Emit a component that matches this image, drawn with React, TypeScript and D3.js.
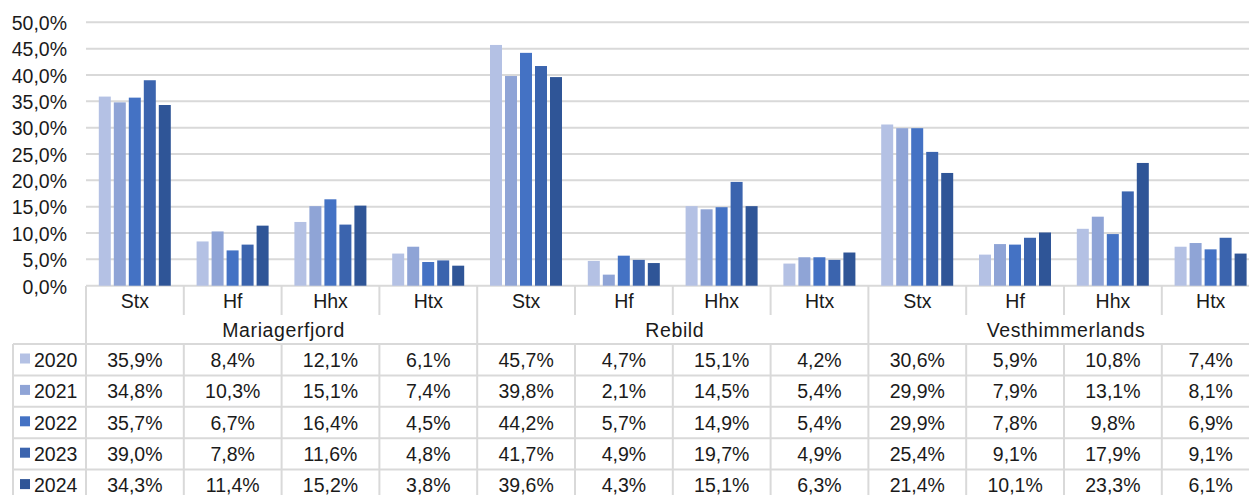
import React from "react";
import * as d3 from "d3";

const years = ["2020", "2021", "2022", "2023", "2024"];
const groups = ["Mariagerfjord", "Rebild", "Vesthimmerlands"];
const subCats = ["Stx", "Hf", "Hhx", "Htx"];
const colors = ["#b4c1e4", "#8fa4d6", "#4472c4", "#3b64ae", "#2f5597"];
const yTicks = [0, 0.05, 0.1, 0.15, 0.2, 0.25, 0.3, 0.35, 0.4, 0.45, 0.5];

// values per year across 12 columns (Mariagerfjord Stx,Hf,Hhx,Htx, Rebild ..., Vesthimmerlands ...)
const v2020 = [35.9, 8.4, 12.1, 6.1, 45.7, 4.7, 15.1, 4.2, 30.6, 5.9, 10.8, 7.4];
const v2021 = [34.8, 10.3, 15.1, 7.4, 39.8, 2.1, 14.5, 5.4, 29.9, 7.9, 13.1, 8.1];
const v2022 = [35.7, 6.7, 16.4, 4.5, 44.2, 5.7, 14.9, 5.4, 29.9, 7.8, 9.8, 6.9];
const v2023 = [39.0, 7.8, 11.6, 4.8, 41.7, 4.9, 19.7, 4.9, 25.4, 9.1, 17.9, 9.1];
const v2024 = [34.3, 11.4, 15.2, 3.8, 39.6, 4.3, 15.1, 6.3, 21.4, 10.1, 23.3, 6.1];
const series = [v2020, v2021, v2022, v2023, v2024];

const W = 1249;
const H = 495;
const FONT = "'Liberation Sans', Arial, sans-serif";
const fmt = (v: number) => v.toFixed(1).replace(".", ",") + "%";

export default function App() {
  const left = 86;
  const colW = 97.8;
  const columns = groups.flatMap((g) => subCats.map((s) => g + "|" + s));
  const x = d3.scaleBand<string>().domain(columns).range([left, left + colW * columns.length]).padding(0);
  const y = d3.scaleLinear().domain([0, 0.5]).range([285.7, 22.3]);
  const inner = d3.scaleBand<string>().domain(years).range([12.8, 12.8 + 72]).paddingInner(0.2).paddingOuter(0);

  const grid = "#d9d9d9";
  const catTop = 286;
  const catBot = 315;
  const tableTop = 344;
  const rowH = 31.4;
  const tableLeft = 13;
  const fs = 19.5;

  return (
    <svg width={W} height={H} style={{ position: "absolute", left: 0, top: 0, background: "#fff" }} fontFamily={FONT}>
      {/* gridlines */}
      {yTicks.map((t) => (
        <line key={"g" + t} x1={left} x2={W} y1={y(t)} y2={y(t)} stroke={grid} strokeWidth={2} />
      ))}
      {yTicks.map((t) => (
        <text key={"t" + t} x={67} y={y(t) + 7.8} textAnchor="end" fontSize={fs} fill="#1a1a1a">
          {fmt(t * 100)}
        </text>
      ))}
      {/* bars */}
      {series.map((vals, si) =>
        vals.map((v, ci) => (
          <rect
            key={si + "-" + ci}
            x={(x(columns[ci]) as number) + (inner(years[si]) as number)}
            y={y(v / 100)}
            width={inner.bandwidth()}
            height={y(0) - y(v / 100)}
            fill={colors[si]}
          />
        ))
      )}
      {/* category row lines */}
      {columns.map((c, i) => {
        const x0 = x(c) as number;
        const isGroup = i % 4 === 0;
        return (
          <g key={"cl" + i}>
            <line x1={x0} x2={x0} y1={catTop} y2={isGroup ? H : catBot} stroke={grid} strokeWidth={2} />
            {!isGroup && <line x1={x0} x2={x0} y1={tableTop} y2={H} stroke={grid} strokeWidth={2} />}
            <text x={x0 + x.bandwidth() / 2} y={307.7} textAnchor="middle" fontSize={fs} fill="#1a1a1a">
              {c.split("|")[1]}
            </text>
          </g>
        );
      })}
      {groups.map((g, gi) => {
        const x0 = x(columns[gi * 4]) as number;
        return (
          <text key={g} x={x0 + (x.bandwidth() * 4) / 2 + 2} y={337} textAnchor="middle" fontSize={fs} fill="#1a1a1a" letterSpacing={0.6}>
            {g}
          </text>
        );
      })}
      {/* table */}
      <line x1={tableLeft} x2={tableLeft} y1={tableTop} y2={H} stroke={grid} strokeWidth={2} />
      {years.map((yr, ri) => {
        const top = tableTop + ri * rowH;
        return (
          <g key={yr}>
            <line x1={tableLeft} x2={W} y1={top} y2={top} stroke={grid} strokeWidth={2} />
            <rect x={20} y={top + 9.5} width={10} height={10} fill={colors[ri]} />
            <text x={34} y={top + 22.7} fontSize={fs} fill="#1a1a1a">
              {yr}
            </text>
            {series[ri].map((v, ci) => (
              <text
                key={ci}
                x={(x(columns[ci]) as number) + x.bandwidth() / 2}
                y={top + 22.7}
                textAnchor="middle"
                fontSize={fs}
                fill="#1a1a1a"
              >
                {fmt(v)}
              </text>
            ))}
          </g>
        );
      })}
    </svg>
  );
}
